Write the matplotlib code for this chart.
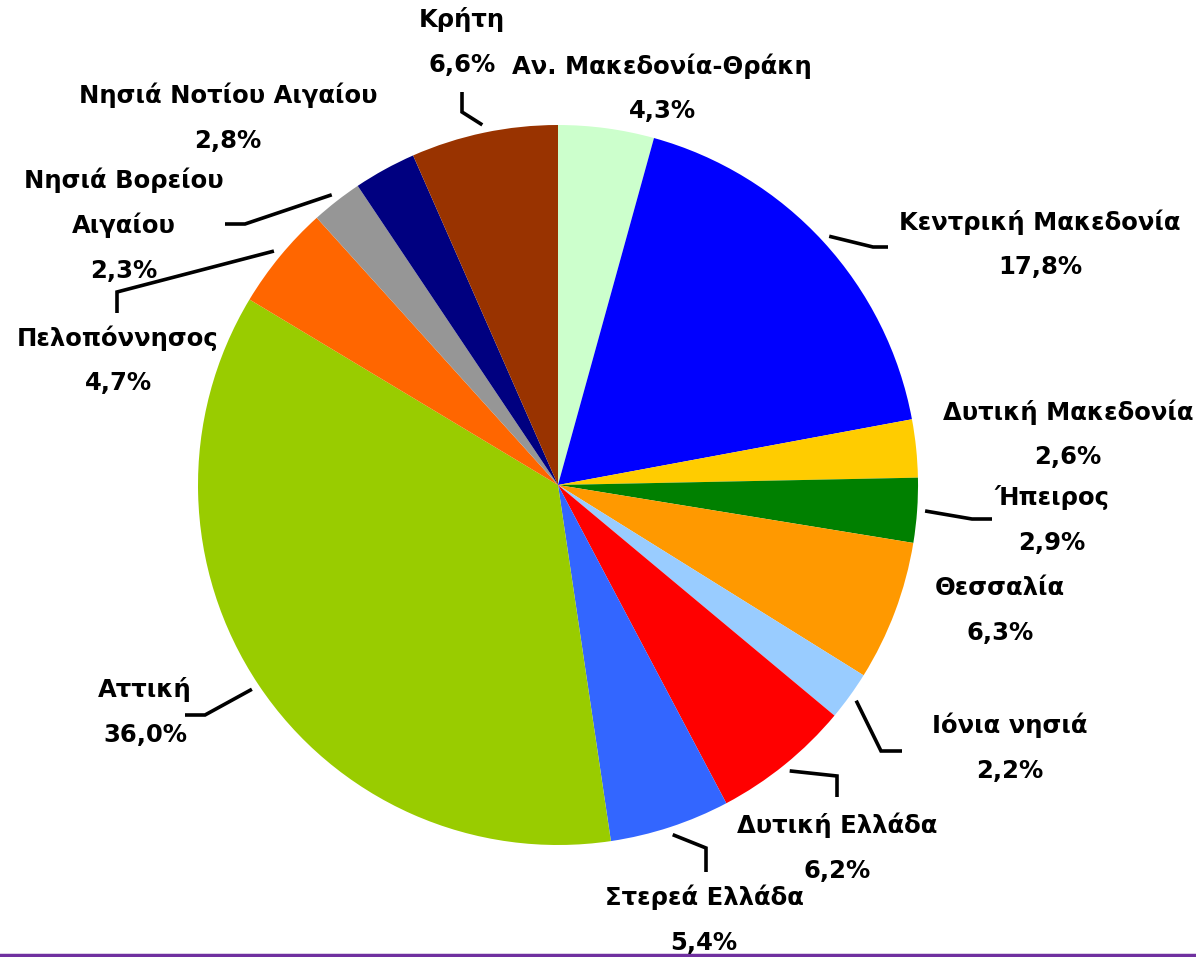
import numpy as np
import matplotlib
matplotlib.use("Agg")
import matplotlib.pyplot as plt

# regions, clockwise from 12 o'clock
regions = ["Αν. Μακεδονία-Θράκη", "Κεντρική Μακεδονία", "Δυτική Μακεδονία",
           "Ήπειρος", "Θεσσαλία", "Ιόνια νησιά", "Δυτική Ελλάδα",
           "Στερεά Ελλάδα", "Αττική", "Πελοπόννησος",
           "Νησιά Βορείου\nΑιγαίου", "Νησιά Νοτίου Αιγαίου", "Κρήτη"]
shares = [4.3, 17.8, 2.6, 2.9, 6.3, 2.2, 6.2, 5.4, 36.0, 4.7, 2.3, 2.8, 6.6]
colors = ["#CCFFCC", "#0000FF", "#FFCC00", "#008000", "#FF9900", "#99CCFF",
          "#FF0000", "#3366FF", "#99CC00", "#FF6600", "#969696", "#000080",
          "#993300"]

W, H = 1196, 957
cx, cy, R = 558, H - 485, 360

# label layout in pixel coords (x, y of first line), leader (elbow, end) or None
label_pos = [(662, 66), (1040, 222), (1068, 412), (1052, 497), (1000, 588),
             (1010, 725), (837, 825), (704, 897), (145, 690), (118, 338),
             (124, 180), (228, 95), (462, 20)]
leaders = [None, ((873, 247), (888, 247)), None, ((972, 519), (992, 519)), None,
           ((881, 751), (902, 751)), ((837, 776), (837, 797)),
           ((706, 848), (706, 872)), ((205, 715), (185, 715)),
           ((117, 292), (117, 313)), ((245, 224), (225, 224)), None,
           ((462, 112), (462, 92))]

fig = plt.figure(figsize=(W / 100, H / 100), dpi=100)
ax = fig.add_axes([0, 0, 1, 1])

explode = [0.0] * len(shares)
explode[regions.index("Ήπειρος")] = 0.016
wedges, _ = ax.pie(shares, colors=colors, startangle=90, counterclock=False,
                   center=(cx, cy), radius=R, explode=explode,
                   wedgeprops=dict(linewidth=0), frame=True)
ax.set_xlim(0, W)
ax.set_ylim(0, H)
ax.set_aspect("equal")
ax.axis("off")

font = dict(fontsize=17.5, fontweight="bold", family="DejaVu Sans",
            ha="center", va="center", color="black")

for name, val, w, (lx, ly), ld in zip(regions, shares, wedges, label_pos, leaders):
    lines = name.split("\n") + [f"{val:.1f}%".replace(".", ",")]
    for i, t in enumerate(lines):
        ax.text(lx, H - (ly + i * 45.5), t, **font)
    if ld is not None:
        mid = np.deg2rad((w.theta1 + w.theta2) / 2)
        wx, wy = w.center
        sx = wx + (R + 8) * np.cos(mid)
        sy = wy + (R + 8) * np.sin(mid)
        (ex, ey), (tx, ty) = ld
        ax.plot([sx, ex, tx], [sy, H - ey, H - ty], color="black", lw=2.6,
                solid_capstyle="butt", solid_joinstyle="miter")

# purple rule at the bottom
ax.plot([0, W], [2, 2], color="#7030A0", lw=2.5)

fig.savefig("out.png", dpi=100)
